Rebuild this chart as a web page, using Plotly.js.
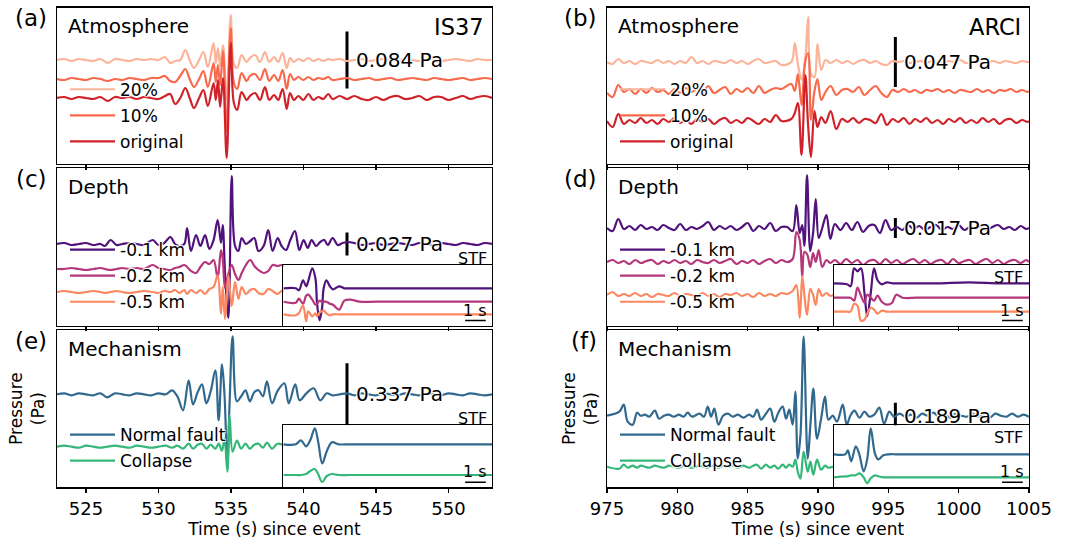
<!DOCTYPE html>
<html><head><meta charset="utf-8">
<script src="https://cdn.plot.ly/plotly-3.0.1.min.js"></script>
<style>html,body{margin:0;padding:0;background:#fff}#chart{width:1078px;height:541px}</style>
</head><body><div id="chart"></div>
<script>
// ================= DATA (amplitudes in trace units, time in s since event) =================
// (a) IS37 - Atmosphere
const timeA = [523.0,523.5,524.0,524.5,525.0,525.5,526.0,526.5,527.0,527.5,528.0,528.5,529.0,529.5,530.0,
 530.45,530.8,531.15,531.5,531.85,532.15,532.45,532.8,533.1,533.4,533.8,533.95,534.1,534.25,534.45,534.7,534.98,535.2,535.43,535.73,536.08,536.3,536.66,537.0,537.34,537.64,537.97,538.26,538.56,538.84,539.07,539.34,539.64,539.99,540.33,540.68,541.02,541.37,541.71,542.0,
 542.5,543.0,543.5,544.0,544.5,545.0,545.5,546.0,546.5,547.0,547.5,548.0,548.5,549.0,549.5,550.0,550.5,551.0,551.5,552.0,552.5,553.0];
const atmA20 = [0,1,-1,1,0,-1,1,-3,1,0,-1,1,0,1,0,
 3,-3,-1,0,10,0,-8,0,8,-7,17,-3,12,-6,15,-40,45,-4,-8,5,-2,2,5,-2,8,-2,3,-2,7,-8,2,-2,1,-1,2,-1,1,-1,1,0,
 1,-1,0,1,-1,0,1,0,-1,1,0,-1,0,1,-1,0,1,0,-1,1,0,0];
const atmA10 = [0,-1,1,0,-1,1,0,-2,0,-1,1,0,-1,1,1,
 3,-2,-3,3,10,0,-8,0,8,-8,16,-3,14,-6,28,-52,51,-4,-10,6,-2,3,5,-1,10,-2,4,-2,9,-10,5,-1,2,-1,2,-1,1,0,2,-1,
 0,1,-1,0,1,-1,0,1,-1,0,1,0,-1,1,0,-1,0,1,-1,0,1,0];
const atmAorig = [0,1,-1,1,0,-1,1,-3,1,0,1,-1,1,0,-1,
 2,4,-6,0,10,0,-10,0,8,-8,15,-2,18,-9,20,-60,55,-5,-12,6,-2,2,5,-2,11,-2,3,-2,9,-11,5,-2,2,-2,4,-2,1,-1,4,-1,
 2,-1,2,-1,-2,1,-2,1,2,-1,0,2,-2,1,1,-2,0,2,-1,1,2,0];

// (b) ARCI - Atmosphere
const timeB = [975.0,975.4,975.8,976.2,976.6,977.0,977.4,977.8,978.2,978.6,979.0,979.4,979.8,980.2,980.6,981.0,981.4,981.8,982.2,982.6,983.0,983.4,983.8,984.2,984.6,985.0,985.4,985.8,986.2,986.6,987.0,
 987.4,
 988.1,988.35,988.57,988.83,989.1,989.3,989.5,989.75,989.96,990.23,990.53,
 990.9,991.3,991.7,992.1,992.5,992.9,993.3,993.7,994.1,994.5,994.9,995.3,995.7,996.1,996.5,996.9,997.3,997.7,998.1,998.5,998.9,999.3,999.7,1000.1,1000.5,1000.9,1001.3,1001.7,1002.1,1002.5,1002.9,1003.3,1003.7,1004.1,1004.5,1004.9,
 1005.0];
const atmB20 = [0,-2,3,-1,1,-2,1,0,-1,2,-1,1,-2,1,-1,5,-1,1,-2,1,0,-1,2,-1,1,-2,1,3,-1,0,1,
 -3,
 0,19,-2,-18,5,45,-12,-15,18,-8,2,
 -1,2,-1,1,-2,1,2,-1,1,-2,-3,1,0,1,-1,0,1,-1,1,0,-1,1,0,2,-1,0,1,-1,0,1,-1,1,0,-1,1,0,
 0];
const atmB10 = [-2,-6,6,-1,2,-3,2,-2,3,-1,1,-3,2,-2,3,-1,2,-2,5,-2,1,4,-3,2,-1,3,-2,5,-2,1,3,
 2,
 7,0,17,-14,30,38,-29,0,12,-9,-1,
 5,-4,1,2,-1,4,-4,1,5,-2,-6,1,-1,2,-1,1,-2,1,0,2,-1,1,-2,1,0,-1,2,-1,1,-2,1,0,2,-1,1,-1,
 0];
const atmBorig = [0,-6,7,-3,1,-2,3,-2,1,-3,2,-1,3,-2,1,-3,2,-1,2,-3,1,3,-2,1,-2,3,0,-3,2,-1,6,
 0,
 2,8,18,-34,46,-5,-36,10,-6,4,-2,
 10,-8,2,-1,3,-2,2,1,-2,7,-4,2,-1,3,-3,2,-1,3,-2,1,-3,2,-1,3,-2,1,-2,3,-1,2,-3,1,2,-2,1,-1,
 0];

// (c) IS37 - Depth
const timeC = [523.0,523.5,524.0,524.5,525.0,525.5,526.0,526.3,526.7,527.1,527.5,528.0,528.5,529.0,529.6,530.0,530.4,
 530.82,531.14,531.44,531.78,531.97,532.24,532.59,532.89,533.21,533.51,533.8,534.08,534.31,534.43,534.59,534.82,535.05,535.28,535.51,535.74,536.03,536.33,536.61,536.89,537.25,537.57,537.87,538.22,538.49,538.79,539.09,539.41,539.71,540.01,540.29,540.56,540.86,541.16,541.44,541.67,542.01,542.36,542.7,
 543.1,543.5,544.0,544.5,545.0,545.5,546.0,546.5,547.0,547.5,548.0,548.5,549.0,549.5,550.0,550.5,551.0,551.5,552.0,552.5,553.0];
const depthC01 = [0,1,-1,0,1,-1,0,-2,4,-1,0,1,0,-1,4,-1,1,
 7,0,-2,0,16,-7,9,-2,9,-5,4,24,1,19,-29,-74,68,-2,-7,6,0,3,6,-7,-2,14,-7,6,-2,-6,4,13,-6,4,-4,4,-2,2,4,-1,6,-1,1,
 2,1,-1,0,1,-1,0,1,0,-1,1,0,-1,1,0,-1,1,0,-1,1,0];
const depthC02 = [0,0,1,0,-1,0,1,0,-1,0,1,0,1,0,4,1,0,
 -1,1,2,4,2,-2,-4,2,7,5,9,-9,19,10,-19,-5,4,-5,-11,-4,4,9,3,-1,-4,-2,4,3,4,2,0,1,-1,0,1,0,-1,0,1,0,-1,0,1,
 0,-1,0,1,0,-1,0,1,0,-1,0,1,0,-1,0,1,0,-1,0,1,0];
const depthC05 = [0,1,0,-1,0,1,0,-1,0,1,0,-1,0,1,0,-1,1,
 0,2,-1,2,-2,2,-1,2,-2,3,5,17,-22,5,-27,17,-14,10,-7,5,-2,2,3,-1,-2,3,1,-2,1,0,1,-1,0,1,0,-1,0,1,0,-1,0,1,0,
 0,1,0,-1,0,1,0,-1,0,1,0,-1,0,1,0,-1,0,1,0,-1,0];

// (d) ARCI - Depth
const timeD = [975.0,975.4,975.8,976.2,976.6,977.0,977.4,977.8,978.2,978.6,979.0,979.4,979.8,980.2,980.6,981.0,981.4,981.8,982.2,982.6,983.0,983.4,983.8,984.2,984.6,985.0,985.4,985.8,986.2,986.6,987.0,987.4,
 987.8,
 988.2,988.46,988.7,988.88,989.03,989.22,989.45,989.65,989.84,990.05,990.3,990.6,990.88,
 991.2,991.6,992.0,992.4,992.8,993.2,993.6,994.0,994.4,994.8,995.2,995.6,996.0,996.4,996.8,997.2,997.6,998.0,998.4,998.8,999.2,999.6,1000.0,1000.4,1000.8,1001.2,1001.6,1002.0,1002.4,1002.8,1003.2,1003.6,1004.0,1004.4,1004.8,
 1005.0];
const depthD01 = [0,-3,9,-1,2,-2,3,-1,1,-2,3,0,-2,4,-2,1,-1,2,6,-2,2,-1,2,-2,1,5,-3,2,-1,5,-3,1,
 1,
 -3,23,-5,3,-18,53,-23,-5,29,-10,0,13,-11,
 4,-2,5,-2,6,-4,2,3,-5,8,-2,1,-2,3,-1,2,-2,1,3,-2,1,-1,3,-2,1,-1,2,-2,1,3,-1,1,-2,2,-1,
 0];
const depthD02 = [0,2,-1,1,-2,2,-1,1,2,-2,1,-1,2,-1,1,-2,2,0,-1,2,-1,1,3,-2,1,-1,2,-2,1,3,-1,2,
 0,
 3,30,22,-15,10,8,-5,9,0,12,-5,2,-1,
 2,-2,3,-1,2,-3,1,2,-2,3,-1,2,-2,1,3,-1,2,-2,1,2,-2,3,-1,1,2,-2,1,3,-1,2,-2,1,2,-1,2,
 0];
const depthD05 = [0,3,-1,1,-1,2,-1,1,-2,1,0,-1,2,-1,1,0,-1,2,-1,1,-2,1,0,2,-1,1,-2,2,-1,1,-1,2,
 1,
 4,10,-23,19,0,-20,6,0,-10,6,-1,2,-1,
 1,-1,1,0,-1,1,0,-1,1,0,-1,1,0,-1,1,0,-1,1,0,-1,1,0,-1,1,0,-1,1,0,-1,1,0,-1,1,0,-1,
 0];

// (e) IS37 - Mechanism
const timeE = [523.0,523.5,524.0,524.5,525.0,525.5,526.0,526.45,527.0,527.5,528.0,528.5,529.0,529.5,530.0,530.5,
 530.93,531.3,531.69,532.08,532.38,532.7,533.0,533.3,533.6,533.92,534.15,534.38,534.55,534.75,534.9,535.11,535.41,535.7,536.0,536.3,536.6,536.9,537.2,537.48,537.83,538.2,538.68,538.98,539.43,539.73,540.2,540.7,541.16,541.6,542.0,
 542.5,543.0,543.5,544.0,544.5,545.0,545.5,546.0,546.5,547.0,547.5,548.0,548.5,549.0,549.5,550.0,550.5,551.0,551.5,552.0,552.5,553.0];
const mechENormal = [0,1,-1,1,0,-1,1,-3,1,0,-1,1,0,-1,1,0,
 4,-2,-16,14,-10,2,10,-9,3,24,-26,30,0,-70,-10,58,-7,-2,4,-7,2,4,-2,13,-9,3,11,-9,10,-6,1,6,-6,1,-1,
 0,1,-1,1,0,-1,1,0,-1,1,0,-1,1,0,-1,1,0,-1,1,0,-1,0];
const mechECollapse = [0,1,0,-1,1,0,-1,0,1,0,-1,1,0,-1,0,1,
 -1,1,-2,3,-2,2,3,-2,2,-2,3,-4,8,-25,31,-5,6,-2,3,-2,2,3,-1,4,-2,3,1,-1,1,0,1,0,-1,0,1,
 0,1,0,-1,0,1,0,-1,0,1,0,-1,0,1,0,-1,0,1,0,-1,0,0];

// (f) ARCI - Mechanism
const timeF = [975.0,975.88,976.19,976.47,976.83,977.14,977.4,977.7,978.0,978.4,978.7,979.05,979.4,979.75,980.1,980.45,980.74,981.05,981.57,981.9,
 982.16,982.4,982.63,982.92,983.25,983.6,983.95,984.3,984.7,985.1,985.4,985.67,985.95,986.3,986.6,986.9,987.18,987.49,987.73,987.96,
 988.2,988.39,988.56,988.75,988.98,989.27,989.46,989.67,989.93,990.22,990.5,990.74,991.05,991.35,991.76,992.04,992.3,992.59,992.95,993.3,
 993.65,994.0,994.36,994.7,995.07,995.4,995.8,996.2,996.6,997.0,997.4,997.8,998.2,998.6,999.0,999.4,999.8,1000.2,1000.6,1001.0,
 1001.4,1001.8,1002.2,1002.6,1003.0,1003.4,1003.8,1004.2,1004.6,1005.0];
const mechFNormal = [0,4,11,-6,-9,3,0,1,-1,5,-3,0,1,-1,1,-1,3,-1,2,-1,
 9,-1,7,-9,0,2,-1,1,-2,1,-1,6,-4,2,7,-6,3,9,-3,6,
 -9,24,-43,-20,79,-43,-9,27,-23,-3,19,-4,0,-6,11,-9,0,5,-2,4,
 -1,1,8,-8,4,-1,2,-1,1,-2,2,0,3,-1,1,-2,2,0,-1,2,
 -1,1,-2,2,0,-1,2,-1,1,-1];
const mechFCollapse = [0,-2,2,-1,1,-1,1,0,-1,1,0,-1,1,0,-1,1,0,-1,1,0,
 -1,1,0,-1,1,0,1,-1,1,-1,1,2,-2,2,-1,1,-2,2,-1,2,
 0,7,-5,-12,15,-5,5,-8,7,-3,1,-1,0,1,-1,1,0,-1,1,0,
 -1,1,0,-1,1,0,-1,1,0,-1,1,0,-1,1,0,-1,1,0,-1,1,
 0,-1,1,0,-1,1,0,-1,1,0];

// Source time functions (insets), time in s
const stfTimeC = [0,0.6,0.75,0.95,1.1,1.2,1.4,1.55,1.63,1.75,1.87,1.95,2.08,2.25,2.4,2.7,2.95,3.25,3.7,4.5,6,8,10.1];
const stfC01 = [0,0,-2,8,2,7,20,10,-15,-32,-20,0,8,2,-1,2,0,0,0,0,0,0,0];
const stfC02 = [0,-1,3,-2,6,7,2,-3,-2,1,0,0,0,-2,-3,-8,1,2,0,0,0,0,0];
const stfC05 = [0,-1,1,9,-7,3,-2,1,-2,2,3,4,1,-1,0,0,0,0,0,0,0,0,0];
const stfTimeD = [0,0.63,0.8,0.97,1.13,1.3,1.47,1.6,1.77,1.93,2.1,2.3,2.55,2.8,3.0,3.3,4,5,6.5,8,9.4];
const stfD01 = [0,-1,-3,15,12,15,-10,-33,-10,15,3,-1,1,0,0,0,0,0,1,0,0];
const stfD02 = [0,0,0,-3,10,2,-5,3,0,-3,2,-4,-7,-5,3,0,0,0,0,0,0];
const stfD05 = [0,0,0,8,6,-9,-8,-2,4,2,-2,1,0,0,0,0,0,0,0,0,0];
const stfTimeE = [0,0.6,0.85,1.1,1.3,1.52,1.68,1.88,2.1,2.35,2.68,3.2,4,6,8,10.1];
const stfENormal = [0,0,4,-2,4,16,3,-19,-7,2,0,0,0,0,0,0];
const stfECollapse = [0,0,0,1,4,6,1,-7,-1,1,0,0,0,0,0,0];
const stfTimeF = [0,0.55,0.67,0.83,1.05,1.22,1.43,1.6,1.77,1.97,2.13,2.38,2.63,3,4,5.5,7,9.4];
const stfFNormal = [0,0,4,-7,8,0,-17,-5,26,1,-5,-1,0,0,0,0,0,0];
const stfFCollapse = [0,1,1,2,2,4,0,-6,-1,2,1,0,0,0,0,0,0,0];

// Labels
const namesAtm = ['20%','10%','original'];
const namesDepth = ['-0.1 km','-0.2 km','-0.5 km'];
const namesMech = ['Normal fault','Collapse'];
const scaleLabels = ['0.084 Pa','0.047 Pa','0.027 Pa','0.017 Pa','0.337 Pa','0.189 Pa'];
const scaleLengths = [57, 50, 23, 20, 62, 26];   // bar length in trace units
const stations = ['IS37','ARCI'];
const rowTitles = ['Atmosphere','Depth','Mechanism'];
const panelLetters = ['(a)','(b)','(c)','(d)','(e)','(f)'];

// ================= STYLE / LAYOUT =================
const W = 1078, H = 541;
const px = v => v / W, py = v => 1 - v / H;
const FONT = 'DejaVu Sans, Verdana, sans-serif';
const colX = [[57, 492], [607, 1029]];
const rowY = [[7.5, 163.8], [168, 325.6], [329.9, 487.3]];
const insetX = [[283.4, 492], [834, 1029]];
const insetY = [[265, 325.6], [425.3, 487.3]];
const xRanges = [[523, 553], [975, 1005]];
const tick0s = [525, 975];
const barTimes = [543, 995.5];
const stfRanges = [10.1, 9.4];
const reds = ['#fbb49a', '#f9694b', '#d0222a'];
const magma = ['#51127c', '#b5367a', '#fb8861'];
const mech = ['#31688e', '#35b779'];
const LW = 2.2;
const shadow = '1px 1px 1px #fff, -1px -1px 1px #fff, 1px -1px 1px #fff, -1px 1px 1px #fff';

const panels = [
  {ax:'',  col:0, row:0, t:timeA, s:[atmA20, atmA10, atmAorig], n:namesAtm, c:reds, off:[60,79,98], lg:'legend'},
  {ax:'2', col:1, row:0, t:timeB, s:[atmB20, atmB10, atmBorig], n:namesAtm, c:reds, off:[62,91,121], lg:'legend2'},
  {ax:'3', col:0, row:1, t:timeC, s:[depthC01, depthC02, depthC05], n:namesDepth, c:magma, off:[244,269,292], lg:'legend3'},
  {ax:'4', col:1, row:1, t:timeD, s:[depthD01, depthD02, depthD05], n:namesDepth, c:magma, off:[228,262,295], lg:'legend4'},
  {ax:'5', col:0, row:2, t:timeE, s:[mechENormal, mechECollapse], n:namesMech, c:mech, off:[394.3,446.7], lg:'legend5'},
  {ax:'6', col:1, row:2, t:timeF, s:[mechFNormal, mechFCollapse], n:namesMech, c:mech, off:[415.7,466.7], lg:'legend6'}
];
const insets = [
  {xa:'7', ya:'7',  col:0, r:0, t:stfTimeC, s:[stfC01, stfC02, stfC05], c:magma, off:[288.3,301.7,314.3]},
  {xa:'7', ya:'8',  col:0, r:1, t:stfTimeE, s:[stfENormal, stfECollapse], c:mech, off:[444.3,475]},
  {xa:'8', ya:'9',  col:1, r:0, t:stfTimeD, s:[stfD01, stfD02, stfD05], c:magma, off:[283.3,297.7,311.7]},
  {xa:'8', ya:'10', col:1, r:1, t:stfTimeF, s:[stfFNormal, stfFCollapse], c:mech, off:[454.3,477.3]}
];

const traces = [];
panels.forEach((p, k) => {
  p.s.forEach((arr, i) => {
    traces.push({type:'scatter', mode:'lines', x:p.t, y:arr.map(v => v - p.off[i]),
      xaxis:'x'+p.ax, yaxis:'y'+p.ax, name:p.n[i], legend:p.lg, legendgroup:'g'+k+'_'+i, showlegend:true,
      line:{color:p.c[i], width:LW, shape:'spline', smoothing:1}, hoverinfo:'skip'});
  });
});
insets.forEach(q => {
  q.s.forEach((arr, i) => {
    traces.push({type:'scatter', mode:'lines', x:q.t, y:arr.map(v => v - q.off[i]),
      xaxis:'x'+q.xa, yaxis:'y'+q.ya, showlegend:false,
      line:{color:q.c[i], width:LW, shape:'spline', smoothing:1}, hoverinfo:'skip'});
  });
});

const layout = {
  width:W, height:H, margin:{l:0,r:0,t:0,b:0}, paper_bgcolor:'#fff', plot_bgcolor:'#fff',
  font:{family:FONT, color:'#000', size:16}, showlegend:true, shapes:[], annotations:[]
};

panels.forEach((p, k) => {
  const labels = p.row === 2;
  const xa = {
    domain:[px(colX[p.col][0]), px(colX[p.col][1])], range:xRanges[p.col], anchor:'y'+p.ax,
    showgrid:false, zeroline:false, showline:true, mirror:true, linecolor:'#000', linewidth:1.2,
    ticks:'outside', ticklen:4.5, tickwidth:1.1, tickcolor:'#000', tick0:tick0s[p.col], dtick:5,
    showticklabels:labels, tickfont:{size:18, family:FONT, color:'#000'}, fixedrange:true
  };
  if (labels) xa.title = {text:'Time (s) since event', font:{size:17, family:FONT, color:'#000'}, standoff:5};
  const ya = {
    domain:[py(rowY[p.row][1]), py(rowY[p.row][0])], range:[-rowY[p.row][1], -rowY[p.row][0]], anchor:'x'+p.ax,
    showgrid:false, zeroline:false, showline:true, mirror:true, linecolor:'#000', linewidth:1.2,
    ticks:'', showticklabels:false, fixedrange:true
  };
  if (labels) ya.title = {text:'Pressure<br>(Pa)', font:{size:17, family:FONT, color:'#000'}, standoff:p.col === 0 ? 6 : 3};
  layout['xaxis'+p.ax] = xa;
  layout['yaxis'+p.ax] = ya;

  // legend
  const firstRow = [90.7, 251, 436][p.row];
  layout[p.lg] = {
    x:px(colX[p.col][0] + 8), y:py(firstRow - 19), xanchor:'left', yanchor:'top',
    bgcolor:'rgba(0,0,0,0)', borderwidth:0, itemwidth:45, tracegroupgap:1, traceorder:'grouped',
    font:{size:17, family:FONT, color:'#000', shadow:shadow}
  };

  // scale bar
  const base = p.off[0];
  layout.shapes.push({type:'line', layer:'below', xref:'x'+p.ax, yref:'y'+p.ax,
    x0:barTimes[p.col], x1:barTimes[p.col], y0:-base - scaleLengths[k]/2, y1:-base + scaleLengths[k]/2,
    line:{color:'#000', width:3}});
  layout.annotations.push({xref:'x'+p.ax, yref:'y'+p.ax, x:barTimes[p.col], y:-base, xshift:7, showarrow:false,
    xanchor:'left', yanchor:'middle', text:scaleLabels[k], font:{size:20, family:FONT, color:'#000', shadow:shadow}});

  // panel letter, row title, station
  const top = rowY[p.row][0];
  layout.annotations.push({xref:'paper', yref:'paper', x:px(colX[p.col][0] - 8), y:py(top + 11), showarrow:false,
    xanchor:'right', yanchor:'middle', text:panelLetters[k], font:{size:23, family:FONT, color:'#000'}});
  layout.annotations.push({xref:'paper', yref:'paper', x:px(colX[p.col][0] + 9), y:py(top + 19), showarrow:false,
    xanchor:'left', yanchor:'middle', text:rowTitles[p.row], font:{size:20, family:FONT, color:'#000'}});
  if (p.row === 0) {
    layout.annotations.push({xref:'paper', yref:'paper', x:px(colX[p.col][1] - 6), y:py(top + 20), showarrow:false,
      xanchor:'right', yanchor:'middle', text:stations[p.col], font:{size:22.5, family:FONT, color:'#000'}});
  }
});

insets.forEach(q => {
  const [y0, y1] = insetY[q.r];
  const [x0, x1] = insetX[q.col];
  const end = stfRanges[q.col];
  if (!layout['xaxis'+q.xa]) {
    layout['xaxis'+q.xa] = {domain:[px(x0), px(x1)], range:[0, end], anchor:'y'+q.ya,
      showgrid:false, zeroline:false, showline:true, mirror:'all', linecolor:'#000', linewidth:1.2,
      ticks:'', showticklabels:false, fixedrange:true};
  }
  layout['yaxis'+q.ya] = {domain:[py(y1), py(y0)], range:[-y1, -y0], anchor:'x'+q.xa,
    showgrid:false, zeroline:false, showline:true, mirror:'all', linecolor:'#000', linewidth:1.2,
    ticks:'', showticklabels:false, fixedrange:true};
  // 1 s scale bar
  layout.shapes.push({type:'line', xref:'x'+q.xa, yref:'y'+q.ya, x0:end - 1.3, x1:end - 0.3,
    y0:-(y1 - 5), y1:-(y1 - 5), line:{color:'#000', width:1.5}});
  layout.annotations.push({xref:'x'+q.xa, yref:'y'+q.ya, x:end - 0.8, y:-(y1 - 15.5), showarrow:false,
    xanchor:'center', yanchor:'middle', text:'1 s', font:{size:16, family:FONT, color:'#000'}});
  // STF label
  const stfY = q.col === 0 ? y0 - 7 : y0 + 12;
  const stfX = q.col === 0 ? x1 - 3 : x1 - 4;
  layout.annotations.push({xref:'paper', yref:'paper', x:px(stfX), y:py(stfY), showarrow:false,
    xanchor:'right', yanchor:'middle', text:'STF', font:{size:16, family:FONT, color:'#000'}});
});

Plotly.newPlot('chart', traces, layout, {displayModeBar:false, staticPlot:true});
</script></body></html>
